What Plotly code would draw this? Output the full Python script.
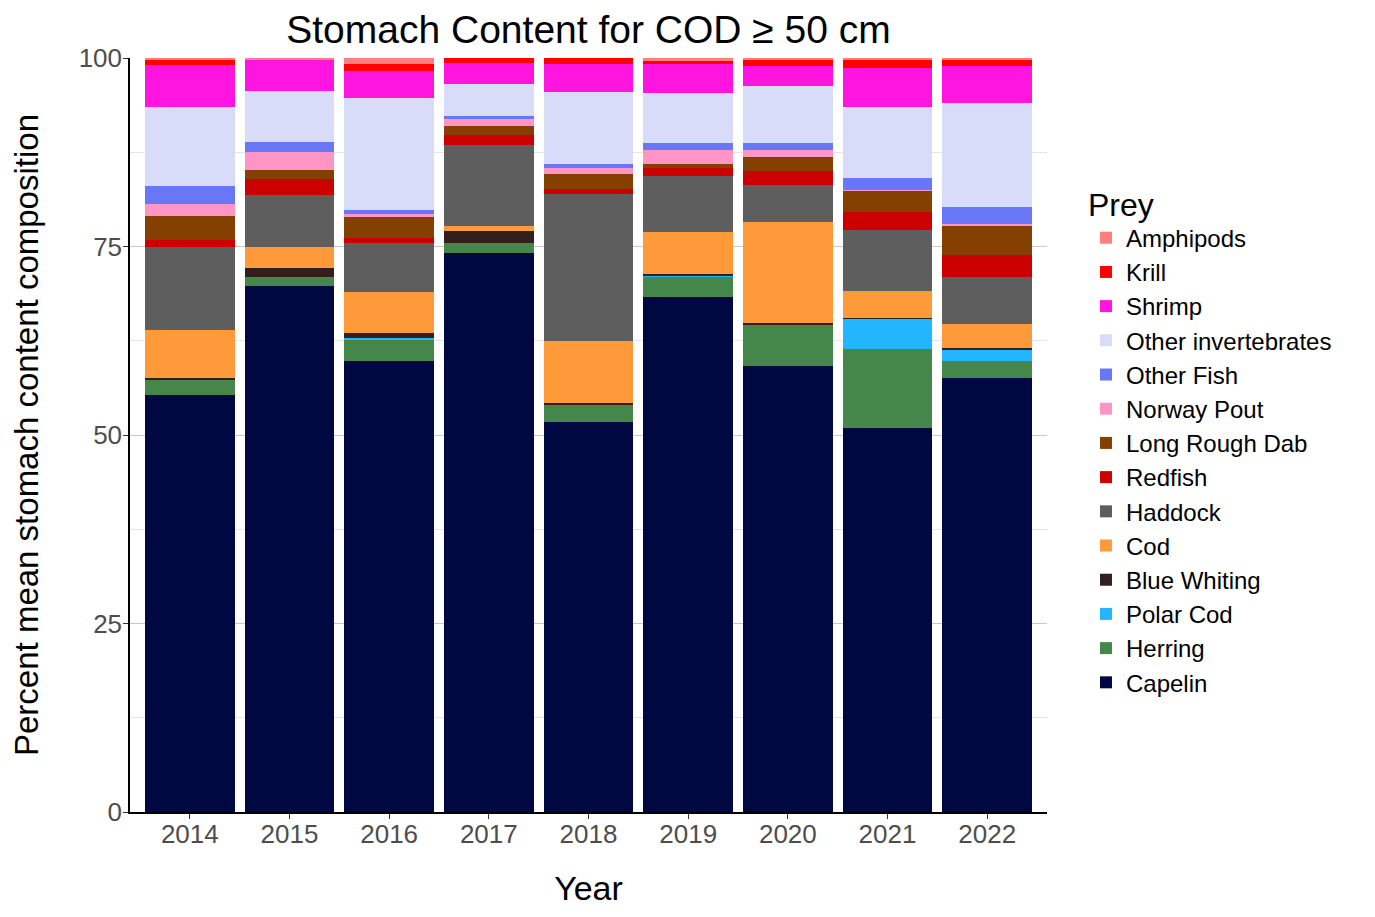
# %%
import plotly.graph_objects as go

# %%
# Mean stomach content composition (%) for cod >= 50 cm
years = ['2014', '2015', '2016', '2017', '2018', '2019', '2020', '2021', '2022']

capelin = [55.3, 69.8, 59.8, 74.1, 51.7, 68.3, 59.2, 50.9, 57.6]
herring = [2.1, 1.1, 2.9, 1.4, 2.4, 2.75, 5.4, 10.5, 2.15]
polar_cod = [0.0, 0.0, 0.1, 0.0, 0.0, 0.15, 0.0, 4.0, 1.5]
blue_whiting = [0.2, 1.2, 0.7, 1.5, 0.2, 0.2, 0.2, 0.15, 0.35]
cod = [6.3, 2.9, 5.4, 0.7, 8.2, 5.55, 13.5, 3.6, 3.1]
haddock = [11.0, 6.8, 6.5, 10.8, 19.4, 7.45, 4.9, 8.1, 6.2]
redfish = [1.0, 2.1, 0.7, 1.3, 0.7, 1.0, 1.8, 2.35, 3.0]
long_rough_dab = [3.1, 1.3, 2.8, 1.2, 2.0, 0.5, 1.9, 2.85, 3.9]
norway_pout = [1.7, 2.4, 0.45, 0.9, 0.75, 1.9, 0.95, 0.05, 0.25]
other_fish = [2.3, 1.3, 0.5, 0.4, 0.6, 0.95, 0.9, 1.55, 2.2]
other_invertebrates = [10.5, 6.7, 14.9, 4.2, 9.55, 6.6, 7.55, 9.4, 13.8]
shrimp = [5.6, 4.2, 3.5, 2.9, 3.7, 3.8, 2.6, 5.2, 4.9]
krill = [0.6, 0.05, 0.9, 0.6, 0.8, 0.45, 0.8, 1.15, 0.85]
amphipods = [0.3, 0.15, 0.85, 0.0, 0.0, 0.4, 0.3, 0.2, 0.2]

# bottom -> top of the stack
prey = [
    ('Capelin', capelin, '#000842'),
    ('Herring', herring, '#45864A'),
    ('Polar Cod', polar_cod, '#22B6FF'),
    ('Blue Whiting', blue_whiting, '#33201E'),
    ('Cod', cod, '#FF9A3A'),
    ('Haddock', haddock, '#5E5E5E'),
    ('Redfish', redfish, '#CC0000'),
    ('Long Rough Dab', long_rough_dab, '#844000'),
    ('Norway Pout', norway_pout, '#FF94C6'),
    ('Other Fish', other_fish, '#6877F5'),
    ('Other invertebrates', other_invertebrates, '#D9DCF8'),
    ('Shrimp', shrimp, '#FF14E0'),
    ('Krill', krill, '#FF0000'),
    ('Amphipods', amphipods, '#FF7F7F'),
]

# %%
fig = go.Figure()

for name, values, colour in prey:
    fig.add_trace(go.Bar(
        name=name,
        x=years,
        y=values,
        marker=dict(color=colour, line=dict(width=0)),
    ))

# page has an 8px body margin, so the figure is a bit smaller than the window
fig.update_layout(dict(
    barmode='stack',
    bargap=0.1,
    width=1359,
    height=901,
    margin=dict(l=122, r=320, t=50, b=97),
    plot_bgcolor='white',
    paper_bgcolor='white',
    font=dict(family='Liberation Sans, Arial, sans-serif', color='black'),
    title=dict(
        text='Stomach Content for COD ≥ 50 cm',
        font=dict(size=39, color='black'),
        x=(122 + 1039) / 2 / 1359,
        xanchor='center',
        y=1 - 21 / 901,
        yanchor='middle',
    ),
    xaxis=dict(
        title=dict(text='Year', font=dict(size=34), standoff=28),
        type='category',
        range=[-0.6, 8.6],
        automargin=False,
        showline=True,
        linecolor='black',
        linewidth=1.5,
        ticks='outside',
        ticklen=5,
        tickcolor='#333333',
        tickfont=dict(size=26, color='#4D4D4D'),
        ticklabelstandoff=-7,
        showgrid=False,
    ),
    yaxis=dict(
        title=dict(text='Percent mean stomach content composition',
                   font=dict(size=33), standoff=33),
        range=[0, 100],
        tickvals=[0, 25, 50, 75, 100],
        automargin=False,
        showline=True,
        linecolor='black',
        linewidth=1.5,
        ticks='outside',
        ticklen=5,
        tickcolor='#333333',
        tickfont=dict(size=26, color='#4D4D4D'),
        ticklabelstandoff=-4,
        showgrid=True,
        gridcolor='#C8C8C8',
        gridwidth=1,
        zeroline=False,
        minor=dict(tickvals=[12.5, 37.5, 62.5, 87.5], showgrid=True,
                   gridcolor='#E4E4E4', gridwidth=1, ticks=''),
    ),
    legend=dict(
        title=dict(text='Prey', font=dict(size=32)),
        traceorder='reversed',
        font=dict(size=24),
        x=1.0425,
        xanchor='left',
        y=0.494,
        yanchor='middle',
        bgcolor='rgba(0,0,0,0)',
    ),
))

fig.write_html('out.html')
